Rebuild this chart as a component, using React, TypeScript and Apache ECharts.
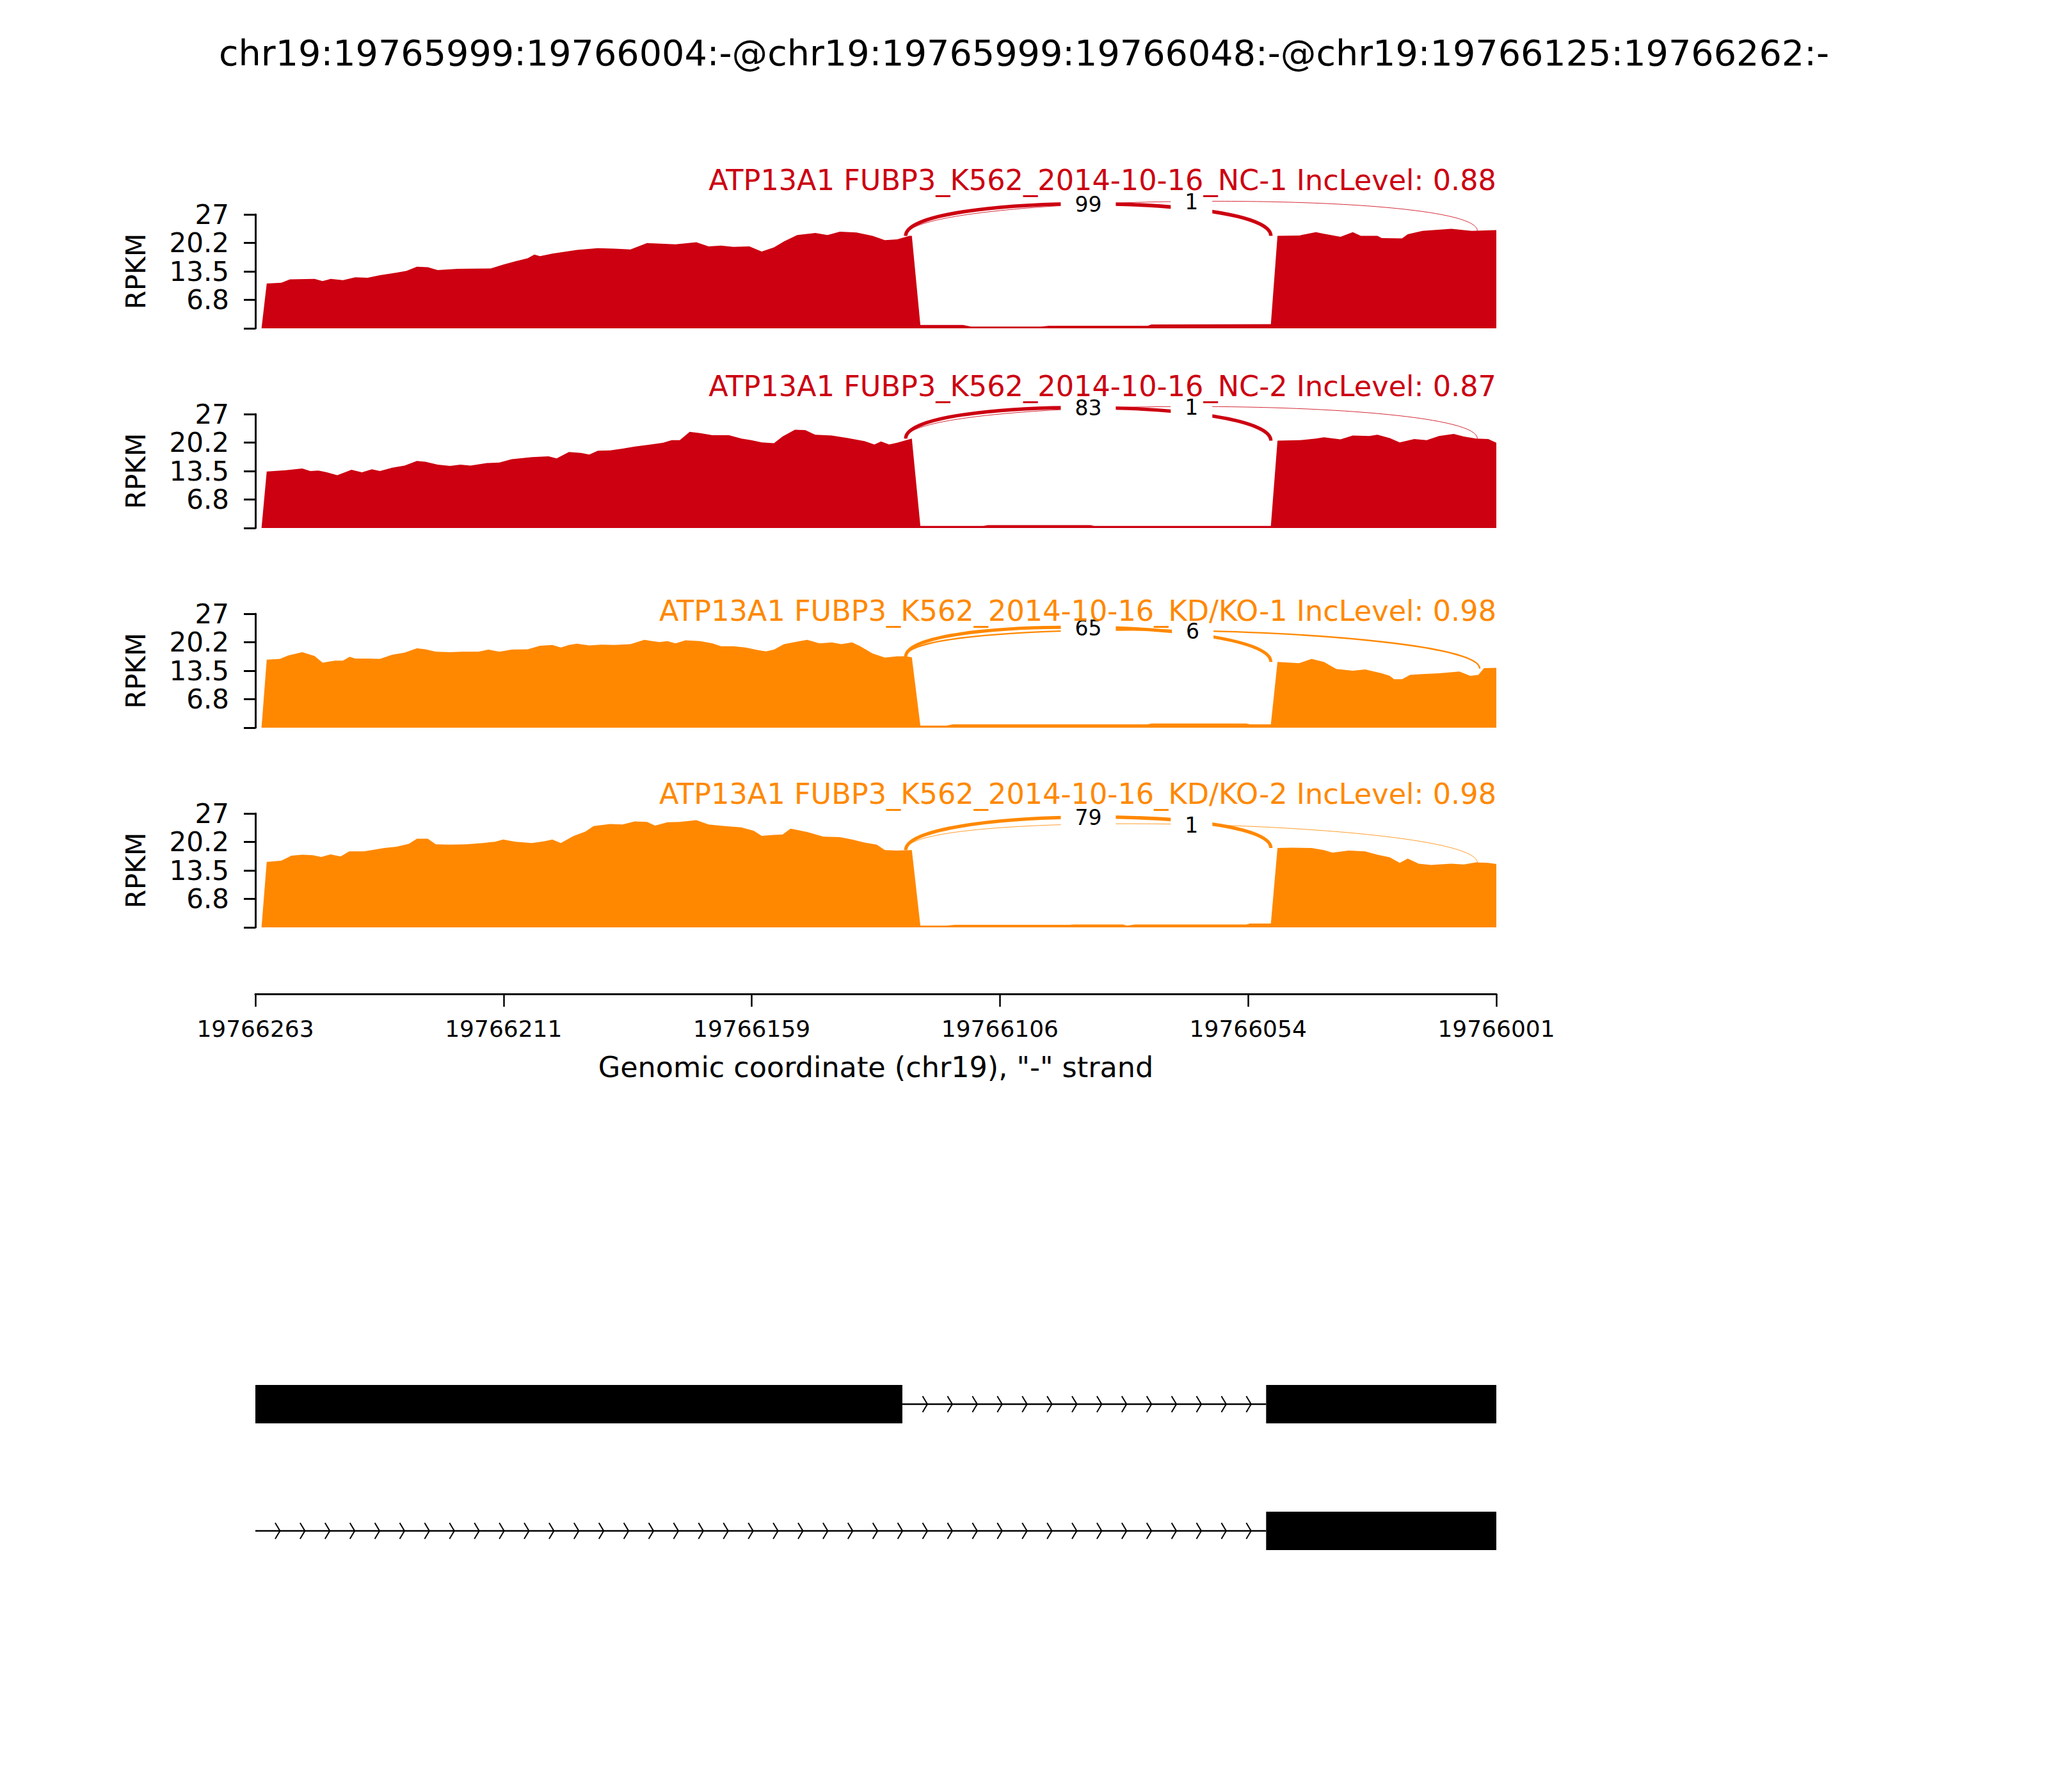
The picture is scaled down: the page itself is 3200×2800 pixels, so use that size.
import React, { useEffect, useRef } from 'react';
import * as echarts from 'echarts';

// ---------- texts ----------
const MAIN_TITLE = 'chr19:19765999:19766004:-@chr19:19765999:19766048:-@chr19:19766125:19766262:-';
const PANEL_TITLES = [
  'ATP13A1 FUBP3_K562_2014-10-16_NC-1 IncLevel: 0.88',
  'ATP13A1 FUBP3_K562_2014-10-16_NC-2 IncLevel: 0.87',
  'ATP13A1 FUBP3_K562_2014-10-16_KD/KO-1 IncLevel: 0.98',
  'ATP13A1 FUBP3_K562_2014-10-16_KD/KO-2 IncLevel: 0.98',
];
const PANEL_COLORS = ['#CC0011', '#CC0011', '#FF8800', '#FF8800'];
const X_TICK_LABELS = ['19766263', '19766211', '19766159', '19766106', '19766054', '19766001'];
const X_AXIS_NAME = 'Genomic coordinate (chr19), "-" strand';
const Y_TICK_LABELS = ['', '6.8', '13.5', '20.2', '27'];
const Y_NAME = 'RPKM';
const Y_MAX = 27;
const X_MAX = 262; // offset from 19766263 (axis reversed: left = 19766263)

// ---------- coverage (offset from 19766263, RPKM) ----------
const COV_NC1 = [
  [1.3, 0], [2.4, 10.6], [5.5, 10.8], [7.3, 11.6], [12.5, 11.7], [14.2, 11.2], [15.9, 11.7], [18.5, 11.4],
  [21.1, 12.1], [23.7, 12.0], [26.3, 12.6], [29.8, 13.2], [31.9, 13.6], [34.1, 14.6], [36.4, 14.5], [38.5, 13.8],
  [42.8, 14.1], [49.7, 14.2], [52.3, 15.1], [54.9, 15.9], [57.5, 16.6], [58.9, 17.5], [60.1, 17.1], [62.7, 17.7],
  [67.9, 18.6], [72.3, 19.0], [75.7, 18.9], [79.2, 18.7], [82.7, 20.2], [88.7, 19.9], [93.1, 20.4], [95.7, 19.4],
  [98.3, 19.6], [100.9, 19.3], [104.3, 19.4], [106.9, 18.2], [109.5, 19.2], [111.6, 20.6], [114.4, 22.1], [118.2, 22.6],
  [120.8, 22.1], [123.4, 22.9], [126.9, 22.7], [130.3, 21.9], [132.9, 20.9], [135.5, 21.1], [138.1, 21.9], [138.6, 21.9],
  [140.4, 0.8], [149.4, 0.8], [151.1, 0.4], [165.9, 0.4], [167.6, 0.6], [188.4, 0.6], [189.2, 0.9], [214.4, 1.0],
  [215.8, 21.9], [220.4, 22.0], [223.9, 22.8], [225.6, 22.4], [229.1, 21.7], [231.7, 22.8], [233.4, 21.9], [236.9, 21.9],
  [237.8, 21.4], [242.1, 21.3], [243.3, 22.3], [246.4, 23.1], [252.5, 23.6], [255.1, 23.3], [256.8, 23.1], [262, 23.3],
];
const COV_NC2 = [
  [1.3, 0], [2.4, 13.4], [6.4, 13.7], [9.9, 14.1], [11.6, 13.5], [13.3, 13.6], [15.1, 13.2], [17.3, 12.5],
  [20.3, 13.8], [22.5, 13.2], [24.6, 13.9], [26.3, 13.5], [28.9, 14.3], [31.5, 14.8], [34.1, 15.9], [35.9, 15.7],
  [38.5, 15.0], [41.1, 14.7], [43.3, 15.0], [45.4, 14.8], [48.9, 15.4], [51.5, 15.5], [54.1, 16.3], [58.4, 16.8],
  [61.9, 17.0], [63.6, 16.5], [66.2, 18.0], [68.8, 17.8], [70.5, 17.4], [72.3, 18.3], [74.9, 18.4], [77.5, 18.8],
  [80.1, 19.3], [83.5, 19.8], [86.1, 20.2], [87.9, 20.8], [89.6, 20.8], [91.7, 22.8], [93.9, 22.5], [96.5, 22.0],
  [100.0, 22.0], [102.6, 21.2], [104.7, 20.8], [106.9, 20.3], [109.5, 20.1], [111.3, 21.7], [113.9, 23.3], [116.1, 23.2],
  [118.2, 22.1], [121.7, 21.9], [125.1, 21.3], [128.6, 20.6], [130.7, 19.8], [132.1, 20.5], [133.8, 19.8], [135.5, 20.2],
  [138.6, 21.2], [140.4, 0.5], [153.7, 0.5], [154.6, 0.7], [176.3, 0.7], [177.1, 0.5], [214.4, 0.5], [215.8, 20.7],
  [220.4, 20.8], [223.9, 21.2], [225.6, 21.5], [229.1, 21.0], [231.7, 21.9], [235.2, 21.8], [236.9, 22.1], [239.5, 21.3],
  [241.6, 20.3], [244.7, 21.1], [247.3, 20.8], [249.9, 21.8], [253.0, 22.3], [255.1, 21.7], [257.7, 21.2], [260.3, 21.1],
  [262, 20.2],
];
const COV_KD1 = [
  [1.3, 0], [2.4, 16.1], [5.2, 16.3], [6.9, 17.1], [9.9, 17.9], [12.5, 17.0], [14.2, 15.4], [16.8, 15.9],
  [18.5, 15.9], [19.9, 16.8], [21.1, 16.4], [23.7, 16.4], [26.3, 16.3], [28.9, 17.3], [31.5, 17.8], [34.1, 18.8],
  [35.9, 18.6], [38.1, 18.0], [41.1, 17.9], [43.7, 18.0], [47.1, 18.0], [49.2, 18.5], [51.5, 18.0], [54.1, 18.5],
  [57.5, 18.6], [60.1, 19.4], [62.7, 19.6], [64.5, 19.0], [66.2, 19.6], [67.9, 19.9], [70.5, 19.5], [73.1, 19.7],
  [75.7, 19.6], [79.2, 19.8], [82.1, 20.8], [85.3, 20.3], [87.0, 20.5], [88.7, 20.0], [90.8, 20.7], [93.9, 20.5],
  [96.5, 20.0], [98.3, 19.3], [100.9, 19.3], [103.5, 19.0], [106.1, 18.4], [107.8, 18.1], [109.5, 18.5], [111.6, 19.8],
  [114.4, 20.4], [116.5, 20.8], [119.1, 20.0], [121.7, 20.2], [123.7, 19.8], [126.0, 20.2], [127.7, 19.3], [130.3, 17.6],
  [132.9, 16.6], [135.5, 16.9], [137.3, 16.9], [138.6, 16.7], [140.4, 0.5], [145.9, 0.5], [147.3, 0.8], [188.4, 0.8],
  [189.2, 1.0], [209.2, 1.0], [210.0, 0.8], [214.4, 0.8], [215.8, 15.6], [220.4, 15.3], [223.0, 16.3], [225.6, 15.6],
  [228.2, 13.9], [231.7, 13.5], [234.3, 13.8], [237.8, 12.9], [239.5, 12.3], [240.4, 11.5], [242.1, 11.5], [243.8, 12.5],
  [246.4, 12.7], [249.9, 12.9], [254.2, 13.3], [256.5, 12.3], [258.2, 12.5], [259.4, 14.1], [262, 14.2],
];
const COV_KD2 = [
  [1.3, 0], [2.4, 15.5], [5.5, 15.8], [7.6, 17.0], [9.9, 17.2], [12.1, 17.1], [13.9, 16.7], [15.9, 17.3],
  [18.0, 16.8], [19.8, 18.0], [22.9, 18.0], [24.6, 18.3], [27.2, 18.8], [29.8, 19.1], [32.4, 19.8], [34.1, 21.0],
  [36.4, 21.0], [38.1, 19.7], [41.1, 19.6], [44.5, 19.7], [48.0, 20.0], [50.6, 20.3], [52.3, 20.8], [54.9, 20.3],
  [58.4, 20.0], [61.0, 20.4], [62.7, 20.8], [64.5, 20.0], [67.1, 21.6], [69.7, 22.7], [71.4, 24.0], [74.9, 24.5],
  [77.5, 24.4], [80.1, 25.1], [82.7, 25.0], [84.4, 24.1], [87.0, 24.9], [89.6, 25.0], [93.1, 25.4], [95.7, 24.4],
  [99.1, 24.0], [102.6, 23.7], [105.2, 22.9], [106.9, 21.7], [109.5, 21.9], [111.3, 22.0], [113.0, 23.4], [116.5, 22.6],
  [119.9, 21.5], [123.4, 21.4], [126.0, 20.8], [128.6, 20.1], [131.2, 19.6], [132.9, 18.3], [135.5, 18.2], [138.6, 18.3],
  [140.4, 0.4], [145.9, 0.4], [147.7, 0.6], [171.9, 0.6], [172.8, 0.7], [183.2, 0.7], [184.0, 0.4], [185.8, 0.7],
  [209.2, 0.7], [210.0, 0.9], [214.4, 0.9], [215.8, 18.8], [218.7, 18.9], [223.0, 18.8], [225.6, 18.3], [227.4, 17.7],
  [230.8, 18.2], [234.3, 18.0], [236.9, 17.2], [239.5, 16.6], [241.6, 15.3], [243.3, 16.3], [245.6, 15.1], [248.2, 14.8],
  [252.5, 15.1], [255.1, 14.9], [257.7, 15.4], [260.3, 15.3], [262, 15.0],
];

// ---------- junctions: [left x, left density, right x, right density, read count] ----------
const JXN_NC1 = [[137.3, 21.9, 214.4, 21.9, 99], [137.3, 21.9, 258.0, 23.1, 1]];
const JXN_NC2 = [[137.3, 21.2, 214.4, 20.7, 83], [137.3, 21.2, 258.0, 21.2, 1]];
const JXN_KD1 = [[137.3, 16.8, 214.4, 15.6, 65], [137.3, 16.8, 258.5, 14.0, 6]];
const JXN_KD2 = [[137.3, 18.3, 214.4, 18.8, 79], [137.3, 18.3, 258.0, 15.3, 1]];

// ---------- gene model ----------
const TX1_EXONS = [[0, 136.6], [213.4, 262]];
const TX1_INTRONS = [[136.6, 213.4]];
const TX2_EXONS = [[213.4, 262]];
const TX2_INTRONS = [[0, 213.4]];
const TX_ROW_Y = [1.5, 0.5];

const COVERAGES = [COV_NC1, COV_NC2, COV_KD1, COV_KD2];
const JUNCTIONS = [JXN_NC1, JXN_NC2, JXN_KD1, JXN_KD2];

// ---------- layout ----------
const FONT = '"DejaVu Sans", sans-serif';
const GRID_LEFT = 399;
const GRID_WIDTH = 1939;
const PANEL_TOPS = [335, 647, 959, 1271];
const PANEL_HEIGHT = 178;
const PANEL_TITLE_Y = [282, 604, 955, 1241];
const ARC_H = (3 * Y_MAX) / 8;
const ARROW_START = 5.2;
const ARROW_STEP = 5.257;

function buildOption() {
  const grids: any[] = [];
  const xAxes: any[] = [];
  const yAxes: any[] = [];
  const series: any[] = [];
  const graphics: any[] = [];

  graphics.push({
    type: 'text',
    x: 1600,
    y: 82,
    z: 100,
    style: {
      text: MAIN_TITLE,
      font: `55.6px ${FONT}`,
      fill: '#000',
      align: 'center',
      verticalAlign: 'middle',
      textAlign: 'center',
      textVerticalAlign: 'middle',
    },
  });

  PANEL_TOPS.forEach((top, i) => {
    const color = PANEL_COLORS[i];
    grids.push({ left: GRID_LEFT, width: GRID_WIDTH, top, height: PANEL_HEIGHT });
    xAxes.push({ type: 'value', gridIndex: i, min: 0, max: X_MAX, show: false });
    yAxes.push({
      type: 'value',
      gridIndex: i,
      min: 0,
      max: Y_MAX,
      interval: Y_MAX / 4,
      name: Y_NAME,
      nameLocation: 'middle',
      nameGap: 166,
      nameTextStyle: { fontSize: 42, fontFamily: FONT, color: '#000' },
      axisLine: { show: true, lineStyle: { color: '#000', width: 3 } },
      axisTick: { show: true, length: 18, lineStyle: { color: '#000', width: 3 } },
      axisLabel: {
        fontSize: 42,
        fontFamily: FONT,
        color: '#000',
        margin: 41,
        formatter: (v: number) => Y_TICK_LABELS[Math.round(v / (Y_MAX / 4))] ?? '',
      },
      splitLine: { show: false },
    });
    series.push({
      type: 'line',
      xAxisIndex: i,
      yAxisIndex: i,
      data: COVERAGES[i],
      showSymbol: false,
      symbol: 'none',
      silent: true,
      lineStyle: { width: 0, color },
      itemStyle: { color },
      areaStyle: { color, opacity: 1 },
      z: 2,
    });
    series.push({
      type: 'custom',
      xAxisIndex: i,
      yAxisIndex: i,
      clip: false,
      silent: true,
      z: 3,
      data: JUNCTIONS[i],
      renderItem: (params: any, api: any) => {
        const x1 = api.value(0), y1 = api.value(1), x2 = api.value(2), y2 = api.value(3), n = api.value(4);
        const p0 = api.coord([x1, y1]);
        const p1 = api.coord([x1, y1 + ARC_H]);
        const p2 = api.coord([x2, y2 + ARC_H]);
        const p3 = api.coord([x2, y2]);
        return {
          type: 'bezierCurve',
          shape: { x1: p0[0], y1: p0[1], cpx1: p1[0], cpy1: p1[1], cpx2: p2[0], cpy2: p2[1], x2: p3[0], y2: p3[1] },
          style: { stroke: color, fill: 'none', lineWidth: 2.78 * Math.log10(n + 1) },
        };
      },
    });
    series.push({
      type: 'custom',
      xAxisIndex: i,
      yAxisIndex: i,
      clip: false,
      silent: true,
      z: 4,
      data: JUNCTIONS[i],
      renderItem: (params: any, api: any) => {
        const x1 = api.value(0), y1 = api.value(1), x2 = api.value(2), y2 = api.value(3), n = api.value(4);
        const p = api.coord([(x1 + x2) / 2, (y1 + y2) / 2 + 0.75 * ARC_H]);
        return {
          type: 'text',
          x: p[0],
          y: p[1] + 1,
          style: {
            text: String(n),
            font: `33px ${FONT}`,
            fill: '#000',
            align: 'center',
            verticalAlign: 'middle',
            textAlign: 'center',
            textVerticalAlign: 'middle',
            backgroundColor: '#fff',
            padding: [3, 22, 3, 22],
          },
        };
      },
    });
    graphics.push({
      type: 'text',
      x: GRID_LEFT + GRID_WIDTH,
      y: PANEL_TITLE_Y[i],
      z: 100,
      style: {
        text: PANEL_TITLES[i],
        font: `44.6px ${FONT}`,
        fill: color,
        align: 'right',
        verticalAlign: 'middle',
        textAlign: 'right',
        textVerticalAlign: 'middle',
      },
    });
  });

  // bottom genomic axis
  grids.push({ left: GRID_LEFT, width: GRID_WIDTH, top: 1552, height: 1 });
  xAxes.push({
    type: 'value',
    gridIndex: 4,
    min: 0,
    max: X_MAX,
    interval: X_MAX / 5,
    position: 'bottom',
    name: X_AXIS_NAME,
    nameLocation: 'middle',
    nameGap: 92,
    nameTextStyle: { fontSize: 44.5, fontFamily: FONT, color: '#000' },
    axisLine: { show: true, lineStyle: { color: '#000', width: 3 } },
    axisTick: { show: true, length: 20, lineStyle: { color: '#000', width: 2.5 } },
    axisLabel: {
      fontSize: 36,
      fontFamily: FONT,
      color: '#000',
      margin: 36,
      formatter: (v: number) => X_TICK_LABELS[Math.round(v / (X_MAX / 5))] ?? '',
    },
    splitLine: { show: false },
  });
  yAxes.push({ type: 'value', gridIndex: 4, min: 0, max: 1, show: false });

  // gene model
  grids.push({ left: GRID_LEFT, width: GRID_WIDTH, top: 2095, height: 396 });
  xAxes.push({ type: 'value', gridIndex: 5, min: 0, max: X_MAX, show: false });
  yAxes.push({ type: 'value', gridIndex: 5, min: 0, max: 2, show: false });
  const geneData: number[][] = [];
  TX1_INTRONS.forEach(([a, b]) => geneData.push([1, TX_ROW_Y[0], a, b]));
  TX2_INTRONS.forEach(([a, b]) => geneData.push([1, TX_ROW_Y[1], a, b]));
  TX1_EXONS.forEach(([a, b]) => geneData.push([0, TX_ROW_Y[0], a, b]));
  TX2_EXONS.forEach(([a, b]) => geneData.push([0, TX_ROW_Y[1], a, b]));
  series.push({
    type: 'custom',
    xAxisIndex: 5,
    yAxisIndex: 5,
    clip: false,
    silent: true,
    data: geneData,
    renderItem: (params: any, api: any) => {
      const kind = api.value(0), ry = api.value(1), a = api.value(2), b = api.value(3);
      const pa = api.coord([a, ry]);
      const pb = api.coord([b, ry]);
      if (kind === 0) {
        return {
          type: 'rect',
          shape: { x: pa[0], y: pa[1] - 30, width: pb[0] - pa[0], height: 60 },
          style: { fill: '#000' },
        };
      }
      const children: any[] = [
        {
          type: 'line',
          shape: { x1: pa[0], y1: pa[1], x2: pb[0], y2: pb[1] },
          style: { stroke: '#000', lineWidth: 2.5 },
        },
      ];
      for (let p = ARROW_START; p < b - 1; p += ARROW_STEP) {
        if (p <= a + 1) continue;
        const c = api.coord([p, ry]);
        children.push({
          type: 'polyline',
          shape: { points: [[c[0] - 7.5, c[1] - 12.5], [c[0], c[1]], [c[0] - 7.5, c[1] + 12.5]] },
          style: { stroke: '#000', fill: 'none', lineWidth: 2 },
        });
      }
      return { type: 'group', children };
    },
  });

  return {
    animation: false,
    backgroundColor: '#fff',
    textStyle: { fontFamily: FONT },
    grid: grids,
    xAxis: xAxes,
    yAxis: yAxes,
    series,
    graphic: { elements: graphics },
  };
}

export default function App() {
  const ref = useRef<HTMLDivElement>(null);
  useEffect(() => {
    document.body.style.margin = '0';
    if (!ref.current) return;
    const chart = echarts.init(ref.current, undefined, { renderer: 'svg' });
    chart.setOption(buildOption() as any);
    return () => chart.dispose();
  }, []);
  return <div ref={ref} style={{ width: 3200, height: 2800, background: '#fff' }} />;
}
